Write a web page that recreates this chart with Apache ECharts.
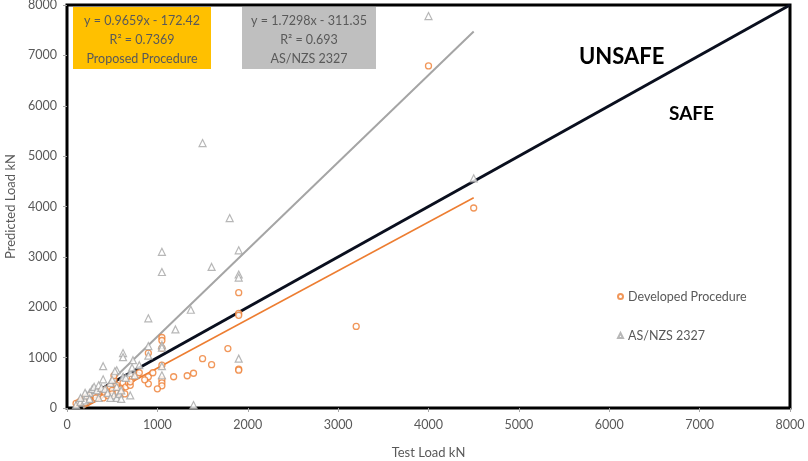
<!DOCTYPE html>
<html>
<head>
<meta charset="utf-8">
<script src="https://cdn.jsdelivr.net/npm/echarts@6/dist/echarts.min.js"></script>
<style>html,body{margin:0;padding:0;background:#fff}#c{width:808px;height:461px}</style>
</head>
<body>
<div id="c"></div>
<script>
// Tick labels
var xTicks = [0,1000,2000,3000,4000,5000,6000,7000,8000];
var yTicks = [0,1000,2000,3000,4000,5000,6000,7000,8000];

// Developed Procedure (orange circles): [test load, predicted load]
var developedX = [4000,4500,3200,1900,1900,1900,1780,1500,1600,1400,1330,1180,1900,1900,1050,1050,1050,1050,1050,1050,1050,900,900,1000,900,
  100,150,180,200,250,280,300,350,360,400,420,450,480,500,520,550,560,600,620,650,680,700,720,750,780,800,560,600,640,400,320,250,450,500,520,700,200,130,860,950];
var developedY = [6790,3970,1620,2290,1880,1840,1180,980,860,690,640,620,770,750,1400,1340,1190,850,560,500,440,1090,480,380,620,
  90,140,120,200,230,300,260,280,330,350,300,380,420,350,560,450,400,380,500,420,500,450,580,620,650,700,300,300,280,200,200,150,250,280,640,520,100,110,560,700];

// AS/NZS 2327 (gray triangles)
var asnzsX = [4000,4500,1500,1800,1900,1600,1900,1900,1370,1200,1900,1400,1050,1050,900,900,1050,1050,620,620,400,550,400,900,1050,730,530,550,300,
  100,150,200,220,250,280,300,330,350,380,420,450,480,500,520,550,580,600,620,650,700,720,750,800,480,350,250,600,700,200,150,1050];
var asnzsY = [7780,4560,5260,3770,3130,2800,2650,2590,1950,1560,980,60,3100,2700,1780,1230,1250,1200,1090,1010,830,750,570,1040,830,950,730,420,360,
  60,120,150,250,300,380,420,350,450,400,380,300,500,560,250,200,280,350,620,600,700,800,650,850,200,200,180,180,250,300,200,650];

// Trend / reference line endpoints
var devTrend = [[180,0],[4500,4174]];
var asTrend = [[180,0],[4500,7473]];
var safeLine = [[100,100],[8000,8000]];

function pairs(xs, ys){ return xs.map(function(x,i){ return [x, ys[i]]; }); }

var chart = echarts.init(document.getElementById('c'), null, {renderer:'canvas'});
var gray = '#595959';
var font = 'Lato, "Open Sans", sans-serif';
chart.setOption({
  animation:false,
  grid:{left:67,right:18,top:5,bottom:53,show:true,borderColor:'#000',borderWidth:3,backgroundColor:'transparent',
    containLabel:false,outerBoundsMode:'none'},
  xAxis:{type:'value',min:xTicks[0],max:xTicks[xTicks.length-1],interval:xTicks[1]-xTicks[0],
    name:'Test Load kN',nameLocation:'middle',nameGap:38,
    nameTextStyle:{color:gray,fontSize:13,fontFamily:font},
    axisLine:{show:true,lineStyle:{color:'#000',width:1}},
    axisTick:{show:true,length:4,lineStyle:{color:'#a6a6a6'}},
    axisLabel:{color:gray,fontSize:12.5,fontFamily:font,margin:10,formatter:function(v){return String(v);}},
    splitLine:{show:false}},
  yAxis:{type:'value',min:yTicks[0],max:yTicks[yTicks.length-1],interval:yTicks[1]-yTicks[0],
    name:'Predicted Load kN',nameLocation:'middle',nameGap:50,
    nameTextStyle:{color:gray,fontSize:13,fontFamily:font},
    axisLine:{show:true,lineStyle:{color:'#000',width:2}},
    axisTick:{show:true,length:4,lineStyle:{color:'#a6a6a6'}},
    axisLabel:{color:gray,fontSize:12.5,fontFamily:font,margin:10,formatter:function(v){return String(v);}},
    splitLine:{show:false}},
  legend:{orient:'vertical',left:612,top:285,itemGap:26,itemWidth:5,itemHeight:5,
    textStyle:{color:gray,fontSize:12.5,fontFamily:font},
    data:[{name:'Developed Procedure',icon:'circle'},{name:'AS/NZS 2327',icon:'triangle'}]},
  series:[
    {type:'line',name:'devTrend',data:devTrend,symbol:'none',lineStyle:{color:'#ED7D31',width:1.5},z:3,silent:true},
    {type:'line',name:'asTrend',data:asTrend,symbol:'none',lineStyle:{color:'#A5A5A5',width:2},z:3,silent:true},
    {type:'line',name:'safe',data:safeLine,symbol:'none',lineStyle:{color:'#0a0f1e',width:3},z:4,silent:true},
    {type:'scatter',name:'Developed Procedure',data:pairs(developedX,developedY),symbol:'circle',symbolSize:6,
      itemStyle:{color:'#fff',borderColor:'#ED7D31',borderWidth:1.3},z:5},
    {type:'scatter',name:'AS/NZS 2327',data:pairs(asnzsX,asnzsY),symbol:'triangle',symbolSize:7,
      itemStyle:{color:'#fff',borderColor:'#A5A5A5',borderWidth:1.2},z:5}
  ],
  graphic:[
    {type:'rect',x:73,y:7,shape:{width:138,height:62},style:{fill:'#FFC000'},z:10},
    {type:'text',x:142,y:11,z:11,style:{text:'y = 0.9659x - 172.42\nR² = 0.7369\nProposed Procedure',
      align:'center',verticalAlign:'top',fill:gray,font:'12.5px '+font,lineHeight:19}},
    {type:'rect',x:242,y:7,shape:{width:134,height:62},style:{fill:'#BFBFBF'},z:10},
    {type:'text',x:309,y:11,z:11,style:{text:'y = 1.7298x - 311.35\nR² = 0.693\nAS/NZS 2327',
      align:'center',verticalAlign:'top',fill:gray,font:'12.5px '+font,lineHeight:19}},
    {type:'text',x:579,y:46,z:11,style:{text:'UNSAFE',fill:'#000',font:'bold 22px '+font}},
    {type:'text',x:669,y:104,z:11,style:{text:'SAFE',fill:'#000',font:'bold 19px '+font}}
  ]
});
</script>
</body>
</html>
